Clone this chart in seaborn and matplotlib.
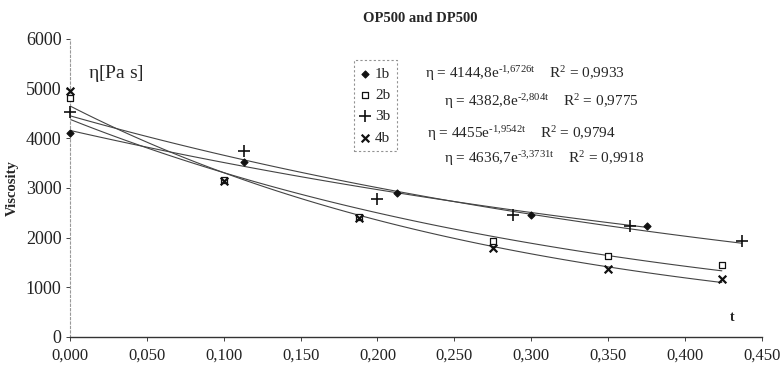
import numpy as np
import pandas as pd
import matplotlib
matplotlib.use("Agg")
import matplotlib.pyplot as plt
import seaborn as sns

# ---- data ----
t_1b = [0.000, 0.113, 0.213, 0.300, 0.375]
v_1b = [4100, 3525, 2905, 2445, 2230]

t_2b = [0.000, 0.100, 0.188, 0.275, 0.350, 0.424]
v_2b = [4805, 3150, 2420, 1925, 1625, 1440]

t_3b = [0.000, 0.113, 0.200, 0.288, 0.364, 0.437]
v_3b = [4520, 3735, 2780, 2445, 2230, 1935]

t_4b = [0.000, 0.100, 0.188, 0.275, 0.350, 0.424]
v_4b = [4960, 3135, 2400, 1780, 1375, 1160]

series_names = ["1b", "2b", "3b", "4b"]
equations = [
    r"$\eta$ = 4144,8e$^{\mathrm{‐1{,}6726t}}$    R$^{\mathrm{2}}$ = 0,9933",
    r"$\eta$ = 4382,8e$^{\mathrm{‐2{,}804t}}$    R$^{\mathrm{2}}$ = 0,9775",
    r"$\eta$ = 4455e$^{\mathrm{‐1{,}9542t}}$    R$^{\mathrm{2}}$ = 0,9794",
    r"$\eta$ = 4636,7e$^{\mathrm{‐3{,}3731t}}$    R$^{\mathrm{2}}$ = 0,9918",
]
x_ticks = [0.0, 0.05, 0.10, 0.15, 0.20, 0.25, 0.30, 0.35, 0.40, 0.45]
y_ticks = [0, 1000, 2000, 3000, 4000, 5000, 6000]

sns.set_theme(style="white")
plt.rcParams["font.family"] = ["Liberation Serif", "DejaVu Serif"]
plt.rcParams["mathtext.fontset"] = "custom"
plt.rcParams["mathtext.rm"] = "Liberation Serif"
plt.rcParams["mathtext.it"] = "Liberation Serif"

frames = []
for name, t, v in zip(series_names, [t_1b, t_2b, t_3b, t_4b], [v_1b, v_2b, v_3b, v_4b]):
    frames.append(pd.DataFrame({"t": t, "Viscosity": v, "series": name}))
df = pd.concat(frames, ignore_index=True)

# exponential trendlines (least squares in log space, as Excel does)
fit_frames = []
for name, g in df.groupby("series"):
    b, ln_a = np.polyfit(g["t"], np.log(g["Viscosity"]), 1)
    tt = np.linspace(g["t"].min(), g["t"].max(), 100)
    fit_frames.append(pd.DataFrame({"t": tt, "Viscosity": np.exp(ln_a) * np.exp(b * tt), "series": name}))
fits = pd.concat(fit_frames, ignore_index=True)

fig = plt.figure(figsize=(7.8, 3.67), dpi=100)
ax = fig.add_axes([0.0897, 0.082, 0.887, 0.812])

sns.lineplot(data=fits, x="t", y="Viscosity", units="series", estimator=None,
             color="#444444", lw=0.8, ax=ax, legend=False)

markers = {"1b": "D", "2b": "s", "3b": "+", "4b": "x"}
styles = {
    "1b": dict(s=13, facecolor="#111111", edgecolor="#111111", linewidth=0.8),
    "2b": dict(s=17, facecolor="white", edgecolor="#111111", linewidth=0.9),
    "3b": dict(s=70, color="#111111", linewidth=1.2),
    "4b": dict(s=30, color="#111111", linewidth=1.6),
}
for name in series_names:
    sub = df[df["series"] == name]
    sns.scatterplot(data=sub, x="t", y="Viscosity", marker=markers[name], ax=ax,
                    label=name, zorder=3, clip_on=False, **styles[name])

ax.set_xlim(0, 0.45)
ax.set_ylim(0, 6000)
ax.set_xticks(x_ticks)
ax.set_xticklabels([f"{x:.3f}".replace(".", ",") for x in x_ticks])
ax.set_yticks(y_ticks)
ax.set_yticklabels([str(y) for y in y_ticks])
ax.tick_params(axis="both", length=3, width=0.6, direction="out",
               colors="#222222", bottom=True, left=True, pad=3)
ax.tick_params(axis="y", labelsize=13)
ax.tick_params(axis="x", labelsize=12, pad=5)

for s in ["top", "right"]:
    ax.spines[s].set_visible(False)
ax.spines["left"].set_color("#999999")
ax.spines["left"].set_linestyle((0, (2, 2)))
ax.spines["left"].set_linewidth(0.8)
ax.spines["bottom"].set_color("#333333")
ax.spines["bottom"].set_linewidth(1.0)

ax.set_xlabel("")
ax.set_ylabel("Viscosity", fontsize=10.5, fontweight="bold", labelpad=5)
ax.set_title("OP500 and DP500", fontsize=10.5, fontweight="bold", pad=12, x=0.506)

ax.text(0.012, 5300, r"$\eta$[Pa s]", fontsize=14, va="center", ha="left")
ax.text(0.431, 400, "t", fontsize=10, fontweight="bold", ha="center", va="center")

eq_pos = [(0.231, 5310), (0.243, 4740), (0.232, 4100), (0.243, 3600)]
for (ex, ey), txt in zip(eq_pos, equations):
    ax.text(ex, ey, txt, fontsize=11, ha="left", va="center")

leg = ax.legend(loc="upper left", bbox_to_anchor=(0.40, 0.955), frameon=True,
                fontsize=11, handlelength=0.5, handletextpad=0.4,
                borderpad=0.45, labelspacing=0.5, fancybox=False)
leg.get_frame().set_edgecolor("#777777")
leg.get_frame().set_linestyle((0, (2, 2)))
leg.get_frame().set_linewidth(0.8)

fig.savefig("out.png", dpi=100)
